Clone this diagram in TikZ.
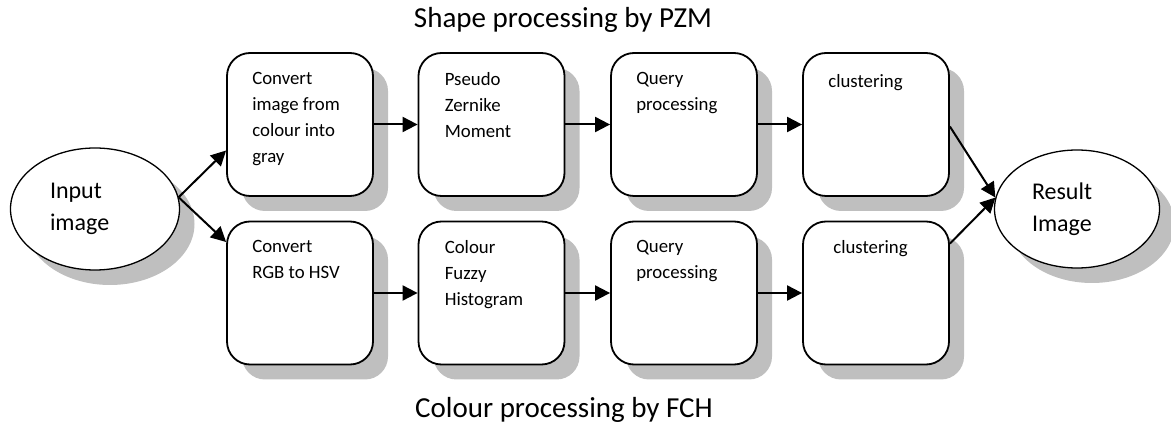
\documentclass[tikz,border=0pt]{standalone}
\usepackage{fontspec}
\setmainfont{Carlito}
\usetikzlibrary{shapes.geometric}
\usetikzlibrary{shadows}
\usetikzlibrary{arrows.meta}
\usetikzlibrary{calc}

\begin{document}
\begin{tikzpicture}[x=1pt,y=1pt,
	blok/.style={draw=black, line width=1.8pt, rounded corners=23pt, fill=white, minimum width=146pt, minimum height=143pt, inner sep=0pt,
		drop shadow={shadow xshift=15pt, shadow yshift=-15pt, fill=black!25, opacity=1}},
	lbl/.style={anchor=north west, align=left, inner sep=0pt, font=\fontsize{18.8}{26}\selectfont},
	oval/.style={ellipse, draw=black, line width=1.3pt, fill=white, inner sep=0pt, text width=90pt, align=left, font=\fontsize{24}{32}\selectfont,
		drop shadow={shadow xshift=15pt, shadow yshift=-15pt, fill=black!25, opacity=1}},
	ttl/.style={font=\fontsize{29}{34}\selectfont, inner sep=0pt},
	flow/.style={line width=2pt, -{Triangle[length=15pt,width=15pt]}}]

	\useasboundingbox (0,0) rectangle (1171,423);

	%Input and result
	\node[oval, minimum width=169pt, minimum height=122pt] (in) at (95,214) {Input\\image};
	\node[oval, minimum width=165pt, minimum height=118pt] (res) at (1077,214) {Result\\Image};

	%Shape row
	\node[blok, label={[lbl, xshift=26pt, yshift=-20pt]north west:Convert\\image from\\colour into\\gray}] (b1) at (300,298.5) {};
	\node[blok, label={[lbl, xshift=27pt, yshift=-20pt]north west:Pseudo\\Zernike\\Moment}] (b2) at (491.5,298.5) {};
	\node[blok, label={[lbl, xshift=26pt, yshift=-20pt]north west:Query\\processing}] (b3) at (684,298.5) {};
	\node[blok, label={[lbl, xshift=26pt, yshift=-22pt]north west:clustering}] (b4) at (876,298.5) {};

	%Colour row
	\node[blok, label={[lbl, xshift=26pt, yshift=-20pt]north west:Convert\\RGB to HSV}] (b5) at (300,130) {};
	\node[blok, label={[lbl, xshift=27pt, yshift=-20pt]north west:Colour\\Fuzzy\\Histogram}] (b6) at (491.5,130) {};
	\node[blok, label={[lbl, xshift=26pt, yshift=-20pt]north west:Query\\processing}] (b7) at (684,130) {};
	\node[blok, label={[lbl, xshift=31pt, yshift=-20pt]north west:clustering}] (b8) at (876,130) {};

	%Titles
	\node[ttl] (shp) at (563,403) {Shape processing by PZM};
	\node[ttl] (col) at (564,13) {Colour processing by FCH};

	%Arrows
	\draw[flow] (in.8) -- ($(b1.west)+(0,-26)$);
	\draw[flow] (in.8) -- ($(b5.west)+(0,51)$);
	\draw[flow] (b1.east) -- (b2.west);
	\draw[flow] (b2.east) -- (b3.west);
	\draw[flow] (b3.east) -- (b4.west);
	\draw[flow] (b5.east) -- (b6.west);
	\draw[flow] (b6.east) -- (b7.west);
	\draw[flow] (b7.east) -- (b8.west);
	\draw[flow] ($(b4.east)+(0,-2)$) -- (res.172);
	\draw[flow] ($(b8.north east)+(0,-23)$) -- (res.172);

\end{tikzpicture}
\end{document}
